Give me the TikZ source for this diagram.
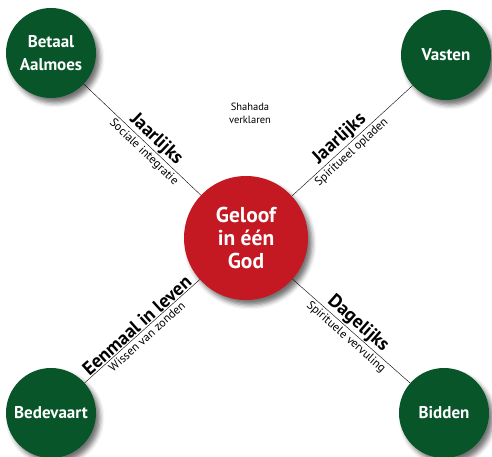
\documentclass[tikz,border=0pt]{standalone}
\usepackage{fontspec}
\setmainfont{PT Sans}
\usetikzlibrary{shadows.blur}
\definecolor{pijlergroen}{RGB}{8,85,42}
\definecolor{geloofrood}{RGB}{196,24,35}

\tikzset{
    pijler/.style={circle, fill=pijlergroen, minimum size=90pt, inner sep=0pt,
        text=white, align=center, font=\bfseries\fontsize{17}{23}\selectfont,
        blur shadow={shadow xshift=4pt, shadow yshift=-5pt, shadow opacity=55, shadow blur radius=4.5pt}},
    kern/.style={pijler, fill=geloofrood, minimum size=124pt,
        font=\bfseries\fontsize{21.5}{23}\selectfont},
    frequentie/.style={sloped, above, font=\bfseries\fontsize{19}{21}\selectfont, inner sep=1pt},
    doel/.style={sloped, below, font=\fontsize{12}{14}\selectfont, inner sep=2.5pt},
}

\begin{document}
\begin{tikzpicture}[x=1pt, y=-1pt]
    \useasboundingbox (0, 0) rectangle (492, 457);
    \node[kern](geloof)at(246, 238){Geloof\\in één\\God};
    \node[pijler](aalmoes)at(51, 53){Betaal\\Aalmoes};
    \node[pijler](vasten)at(446, 55){Vasten};
    \node[pijler](bedevaart)at(51, 413){Bedevaart};
    \node[pijler](bidden)at(444, 413){Bidden};
    \node[align=center, font=\fontsize{10.5}{13}\selectfont](shahada)at(250, 113){Shahada\\verklaren};
    % de vier pijlers rond het geloof
    \draw(aalmoes)--(geloof)
        node[frequentie, pos=.56]{Jaarlijks}
        node[doel, pos=.56]{Sociale integratie};
    \draw(geloof)--(vasten)
        node[frequentie, pos=.45]{Jaarlijks}
        node[doel, pos=.45]{Spiritueel opladen};
    \draw(bedevaart)--(geloof)
        node[frequentie, pos=.5]{Eenmaal in leven}
        node[doel, pos=.5]{Wissen van zonden};
    \draw(geloof)--(bidden)
        node[frequentie, pos=.5]{Dagelijks}
        node[doel, pos=.5]{Spirituele vervuling};
\end{tikzpicture}
\end{document}
